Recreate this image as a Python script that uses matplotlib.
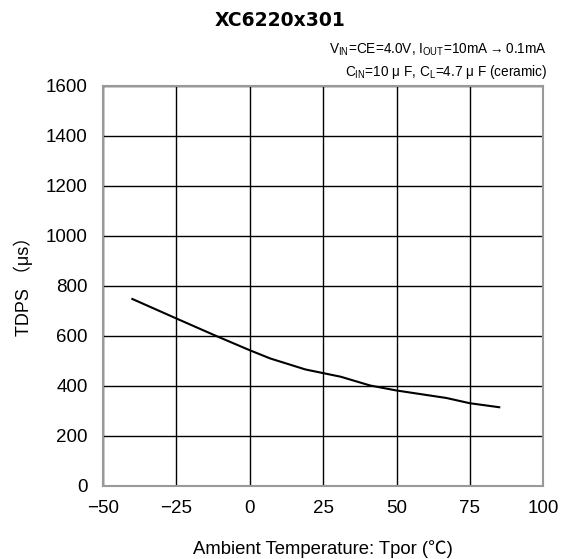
import matplotlib
matplotlib.use("Agg")
import matplotlib.pyplot as plt
import numpy as np

plt.rcParams['font.family'] = ['Liberation Sans', 'Noto Sans CJK JP', 'DejaVu Sans']
plt.rcParams['mathtext.fontset'] = 'custom'
plt.rcParams['mathtext.rm'] = 'Liberation Sans'
plt.rcParams['axes.unicode_minus'] = True

# data
temp = [-40, -25, -12, 0, 7, 19, 31, 41, 50, 67, 75, 85]
tdps = [748, 670, 603, 543, 510, 466, 437, 402, 382, 352, 331, 315]

xticks = [-50, -25, 0, 25, 50, 75, 100]
yticks = [0, 200, 400, 600, 800, 1000, 1200, 1400, 1600]

fig = plt.figure(figsize=(5.61, 5.59), dpi=100)
ax = fig.add_axes([0.1836, 0.1306, 0.7848, 0.7156])

ax.plot(temp, tdps, color='black', lw=1.5)

ax.set_xlim(-50, 100)
ax.set_ylim(0, 1600)
ax.set_xticks(xticks)
ax.set_yticks(yticks)
ax.set_xticklabels([str(v).replace('-', '\u2212') for v in xticks])
ax.tick_params(length=0, labelsize=13.5)
ax.tick_params(axis='y', pad=11)
ax.tick_params(axis='x', pad=10)
ax.grid(True, color='black', lw=1.0)
for s in ax.spines.values():
    s.set_color('#999999')
    s.set_linewidth(1.5)

fig.text(323/561, 1 - 549/559, 'Ambient Temperature: Tpor (\u2103)',
         ha='center', va='center', fontsize=13.3)
fig.text(23/561, 1 - 282/559, 'TDPS \uff08\u03bcs\uff09', rotation=90,
         ha='center', va='center', fontsize=13)

fig.text(0.5, 1 - 20/559, 'XC6220x301', ha='center', va='center',
         fontsize=13.5, fontweight='bold', family='DejaVu Sans')
fig.text(547/561, 1 - 50/559,
         r'V$_{\mathrm{IN}}$=CE=4.0V, I$_{\mathrm{OUT}}$=10mA$\rightarrow$0.1mA',
         ha='right', va='center', fontsize=9.8)
fig.text(547/561, 1 - 72/559,
         r'C$_{\mathrm{IN}}$=10 ' + '\u03bc F, ' + r'C$_{\mathrm{L}}$=4.7 ' + '\u03bc F (ceramic)',
         ha='right', va='center', fontsize=9.8)

fig.savefig('out.png', dpi=100)
